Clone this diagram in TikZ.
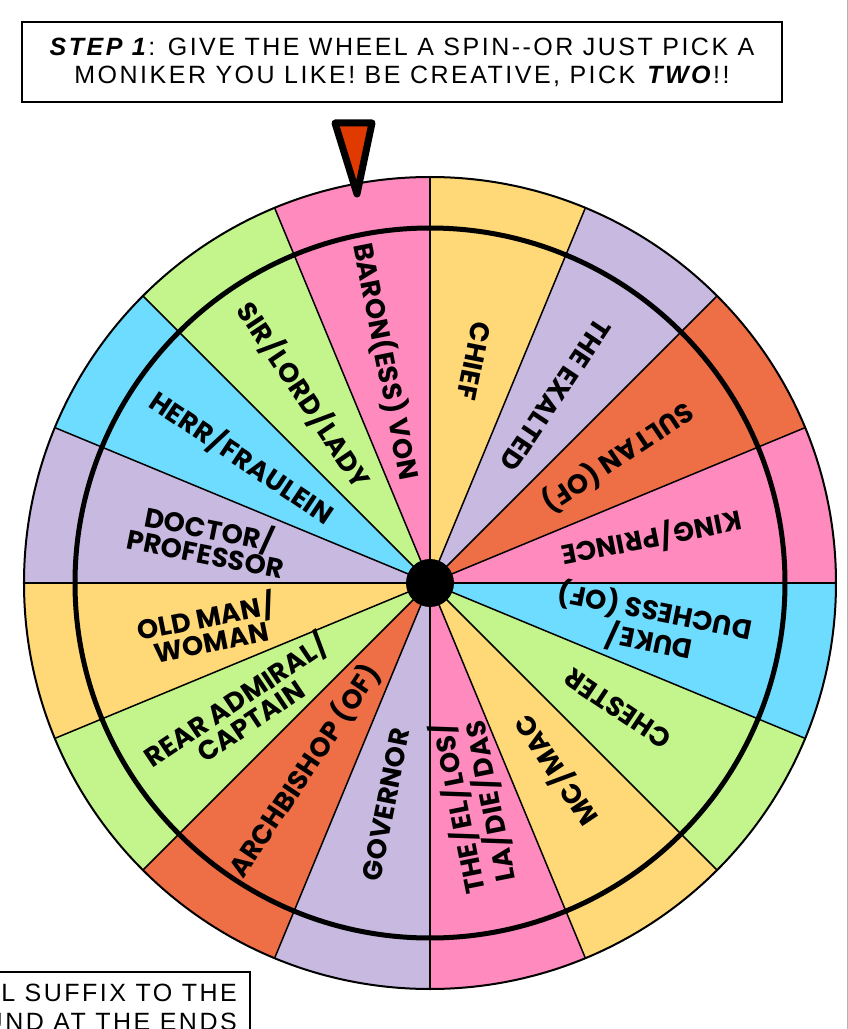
\documentclass[tikz,border=0pt]{standalone}
\usepackage{fontspec}
\setmainfont{Liberation Sans}
\newfontfamily\comicfont{Liberation Sans}[LetterSpace=10]
\newfontfamily\wheelfont{Poppins}[LetterSpace=1]
\usepackage{tikz}
\usetikzlibrary{positioning}

\definecolor{wpink}{HTML}{FF8ABE}
\definecolor{wyellow}{HTML}{FFD878}
\definecolor{wlav}{HTML}{C8B9E1}
\definecolor{worange}{HTML}{EE6E46}
\definecolor{wgreen}{HTML}{C3F58C}
\definecolor{wblue}{HTML}{6EDCFF}
\definecolor{ptred}{HTML}{E03A00}

\newcommand\wsl{\kern1.5pt/\kern1.5pt}

\tikzset{
  spoke/.style={line width=1.5pt},
  wlabel/.style={font=\wheelfont\bfseries\fontsize{27}{24}\selectfont,align=center,inner sep=0pt},
  caption/.style={font=\comicfont\fontsize{25}{28}\selectfont,inner sep=0pt}
}

\begin{document}
\begin{tikzpicture}[x=1pt,y=1pt]
		\clip (-430,-446) rectangle (418,583);
		\useasboundingbox (-430,-446) rectangle (418,583);
		\fill[white] (-430,-446) rectangle (418,583);
		% panel edge
		\draw[gray!60,line width=1pt] (417,583) -- (417,-446);
		% title box
		\draw[line width=1.5pt] (-408,561) rectangle (352,481);
		\node[caption,align=center] (title) at (-28,521)
		  {\textbf{\textit{STEP 1}}: GIVE THE WHEEL A SPIN--OR JUST PICK A\\
		   MONIKER YOU LIKE! BE CREATIVE, PICK \textbf{\textit{TWO}}!!};
		% wheel sectors
		\foreach \col [count=\i from 0] in {wpink,worange,wlav,wyellow,wpink,wgreen,wblue,wlav,
		  wyellow,wgreen,worange,wlav,wpink,wyellow,wgreen,wblue}
		  \fill[\col] (0,0) -- (\i*22.5:406) arc[start angle=\i*22.5, end angle=\i*22.5+22.5, radius=406] -- cycle;
		\foreach \i in {0,...,15}
		  \draw[spoke] (0,0) -- (\i*22.5:406);
		\draw[line width=2pt] (0,0) circle (406);
		\draw[line width=5pt] (0,0) circle (355);
		\node[circle,fill=black,minimum size=48pt,inner sep=0pt] (hub) at (0,0) {};
		% labels, read from the rim in
		\foreach \txt [count=\i from 0] in {
		  {KING\wsl PRINCE}, {SULTAN (OF)}, {THE EXALTED}, {CHIEF},
		  {BARON(ESS) VON}, {SIR\wsl LORD\wsl LADY}, {HERR\wsl FRAULEIN}, {DOCTOR\wsl\\PROFESSOR},
		  {OLD MAN\wsl\\WOMAN}, {REAR ADMIRAL\wsl\\CAPTAIN}, {ARCHBISHOP (OF)}, {GOVERNOR},
		  {THE\wsl EL\wsl LOS\wsl\\LA\wsl DIE\wsl DAS}, {MC\wsl MAC}, {CHESTER}, {DUKE\wsl\\DUCHESS (OF)}}
		  \node[wlabel,rotate=\i*22.5+191.25] (lab\i) at (\i*22.5+11.25:226) {\txt};
		% pointer
		\draw[line width=7pt,line join=round,fill=ptred] (-95,460) -- (-58,460) -- (-73,389) -- cycle;
		% lower note box
		\draw[line width=1.5pt] (-440,-389) -- (-180,-389) -- (-180,-460);
		\node[caption,anchor=east] (noteA) at (-193,-410) {L SUFFIX TO THE};
		\node[caption,anchor=east] (noteB) at (-193,-439) {UND AT THE ENDS};
\end{tikzpicture}
\end{document}
